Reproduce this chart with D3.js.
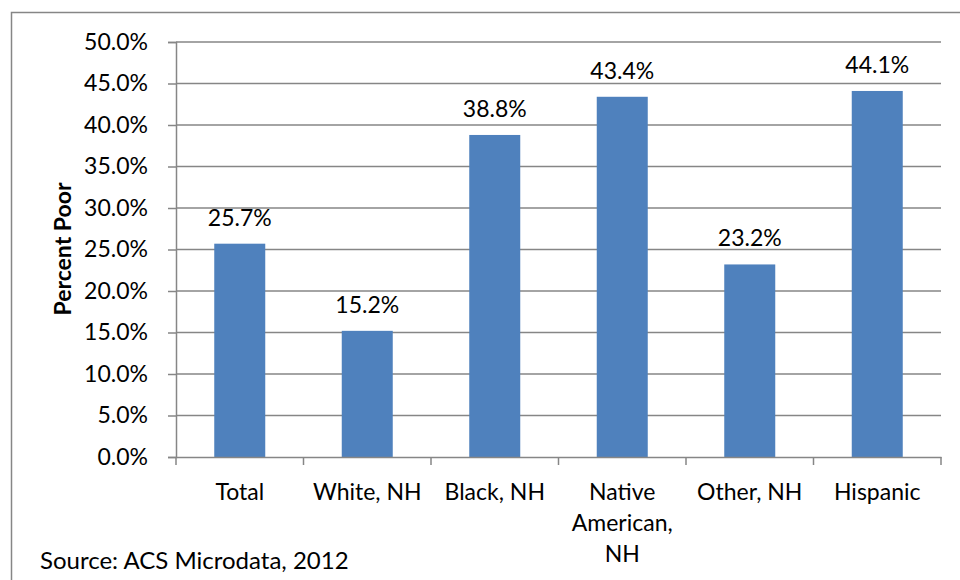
<!DOCTYPE html>
<html><head><meta charset="utf-8">
<script src="https://cdn.jsdelivr.net/npm/d3@7"></script>
<style>body{margin:0;background:#fff}svg{display:block}text{font-family:Lato,"Open Sans",sans-serif;fill:#000}</style>
</head><body>
<svg id="c" width="960" height="580"></svg>
<script>
const categories = ["Total", "White, NH", "Black, NH", "Native American, NH", "Other, NH", "Hispanic"];
const categoryLines = [["Total"], ["White, NH"], ["Black, NH"], ["Native", "American,", "NH"], ["Other, NH"], ["Hispanic"]];
const values = [25.7, 15.2, 38.8, 43.4, 23.2, 44.1];
const yTicks = [0, 5, 10, 15, 20, 25, 30, 35, 40, 45, 50];
const yTitle = "Percent Poor";
const source = "Source: ACS Microdata, 2012";

const svg = d3.select("#c");
const fs = 23;
svg.append("rect").attr("x", 11.5).attr("y", 12.5).attr("width", 960).attr("height", 580)
  .attr("fill", "none").attr("stroke", "#868686").attr("stroke-width", 1.5);

const L = 176, R = 941, T = 42, B = 457;
const x = d3.scaleBand().domain(categories).range([L, R]).paddingInner(0.6).paddingOuter(0.3);
const xb = d3.scaleBand().domain(categories).range([L, R]);
const y = d3.scaleLinear().domain([0, 50]).range([B, T]);

// gridlines
svg.append("g").selectAll("line").data(yTicks.filter(d => d > 0)).join("line")
  .attr("x1", L).attr("x2", R).attr("y1", d => y(d)).attr("y2", d => y(d))
  .attr("stroke", "#868686").attr("stroke-width", 1.5);

// y axis
const ya = svg.append("g").attr("transform", `translate(${L},0)`)
  .call(d3.axisLeft(y).tickValues(yTicks).tickSize(8).tickPadding(20).tickFormat(d => d.toFixed(1) + "%"));
ya.select(".domain").attr("stroke", "#868686").attr("stroke-width", 1.5);
ya.selectAll(".tick line").attr("stroke", "#868686").attr("stroke-width", 1.5);
ya.selectAll(".tick text").style("font-size", fs + "px").style("font-family", "Lato").attr("fill", "#000");

// bars
svg.append("g").selectAll("rect").data(values).join("rect")
  .attr("x", (d, i) => x(categories[i])).attr("width", x.bandwidth())
  .attr("y", d => y(d)).attr("height", d => B - y(d)).attr("fill", "#4F81BD");

// x axis
const xa = svg.append("g").attr("transform", `translate(0,${B})`)
  .call(d3.axisBottom(xb).tickSize(0).tickFormat(""));
xa.select(".domain").attr("stroke", "#868686").attr("stroke-width", 1.5);
const bounds = categories.map(c => xb(c)).concat([R]);
svg.append("g").selectAll("line").data(bounds).join("line")
  .attr("x1", d => d).attr("x2", d => d).attr("y1", B).attr("y2", B + 8)
  .attr("stroke", "#868686").attr("stroke-width", 1.5);

// category labels
const cl = svg.append("g").selectAll("text").data(categories).join("text")
  .attr("x", d => xb(d) + xb.bandwidth() / 2).attr("y", 491)
  .attr("text-anchor", "middle").attr("dominant-baseline", "central").style("font-size", fs + "px");
cl.each(function(d, i) {
  d3.select(this).selectAll("tspan").data(categoryLines[i]).join("tspan")
    .attr("x", xb(d) + xb.bandwidth() / 2).attr("dy", (t, j) => j === 0 ? 0 : 31).text(t => t);
});

// value labels
svg.append("g").selectAll("text").data(values).join("text")
  .attr("x", (d, i) => x(categories[i]) + x.bandwidth() / 2).attr("y", d => y(d) - 18)
  .attr("text-anchor", "middle").style("font-size", fs + "px").text(d => d.toFixed(1) + "%");

// y title
svg.append("text").attr("transform", "translate(62,249) rotate(-90)")
  .attr("text-anchor", "middle").attr("dominant-baseline", "central")
  .style("font-size", fs + "px").style("font-weight", "bold").text(yTitle);

// source
svg.append("text").attr("x", 40).attr("y", 569).style("font-size", "24px").text(source);
</script>
</body></html>
